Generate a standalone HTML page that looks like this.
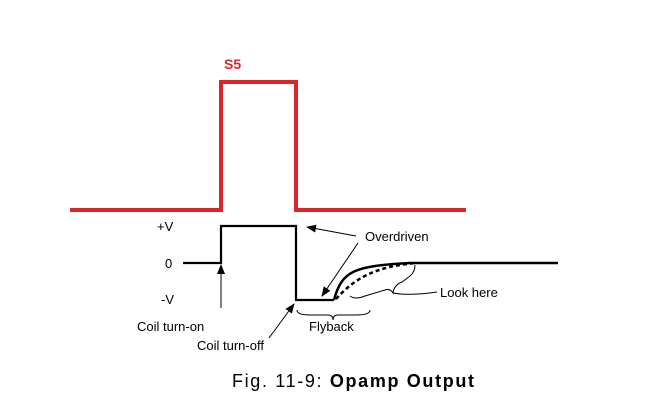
<!DOCTYPE html><html><head><style>body{margin:0;background:#fff}svg{display:block}</style></head><body>
<svg width="652" height="420" xmlns="http://www.w3.org/2000/svg" font-family="Liberation Sans, sans-serif">
<defs><marker id="a" markerWidth="10" markerHeight="8" refX="9" refY="4" orient="auto" markerUnits="userSpaceOnUse"><path d="M0,0 L10,4 L0,8 Z" fill="#000"/></marker></defs>
<polyline points="70,210 221,210 221,82 296,82 296,210 466,210" fill="none" stroke="#d9262c" stroke-width="4"/>
<text x="224" y="69" fill="#d9262c" font-size="14" font-weight="bold">S5</text>
<polyline points="183,263 221,263 221,226 296,226 296,300 334,300" fill="none" stroke="#000" stroke-width="2.2"/>
<path d="M334,300 C342,270 355,266 410,263 L558,263" fill="none" stroke="#000" stroke-width="2.5"/>
<path d="M336,299 C355,278 375,267 415,263" fill="none" stroke="#000" stroke-width="2.5" stroke-dasharray="4,3"/>
<g font-size="13" fill="#000">
<text x="157" y="231">+V</text><text x="165" y="268">0</text><text x="161" y="304">-V</text>
<text x="365" y="241">Overdriven</text>
<text x="137" y="331">Coil turn-on</text>
<text x="197" y="350">Coil turn-off</text>
<text x="309" y="331">Flyback</text>
<text x="440" y="297">Look here</text>
</g>
<g stroke="#000" stroke-width="1" fill="none">
<line x1="356" y1="236" x2="307" y2="227" marker-end="url(#a)"/>
<line x1="358" y1="243" x2="322" y2="296" marker-end="url(#a)"/>
<line x1="221" y1="308" x2="221" y2="265" marker-end="url(#a)"/>
<line x1="269" y1="338" x2="294" y2="304" marker-end="url(#a)"/>
<path d="M297,310 Q297,315 310,315 L328,315 Q333,315 333,320 Q333,315 338,315 L356,315 Q370,315 370,310"/>
<path d="M350,296 Q355,300 365,296 L385,290 Q390,288 393,293 Q394,285 402,282 L410,276 Q415,272 415,265"/>
<path d="M393,293 Q410,296 437,292"/>
</g>
<text x="232" y="387" font-size="18" textLength="242" lengthAdjust="spacing">Fig. 11-9:  <tspan font-weight="bold">Opamp Output</tspan></text>
</svg></body></html>
